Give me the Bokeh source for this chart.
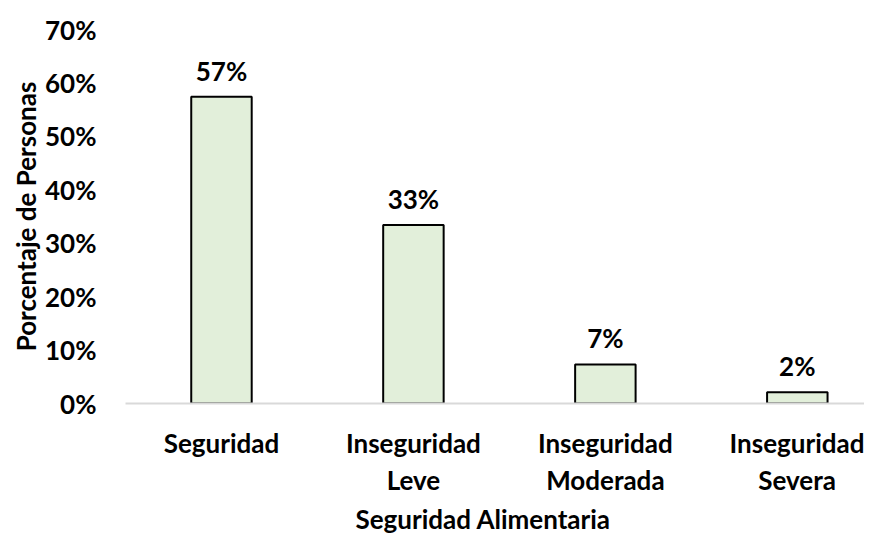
from bokeh.plotting import figure
from bokeh.models import Range1d, FixedTicker, PrintfTickFormatter, ColumnDataSource, Title
from bokeh.core.properties import value
from bokeh.embed import file_html
from bokeh.resources import INLINE

categories = ["Seguridad", "Inseguridad\nLeve", "Inseguridad\nModerada", "Inseguridad\nSevera"]
percentages = [57.4, 33.4, 7.3, 2.1]
y_ticks = [0, 10, 20, 30, 40, 50, 60, 70]
x_title = "Seguridad Alimentaria"
y_title = "Porcentaje de Personas"

FONT = "Lato"
FS = "26px"

xs = list(range(len(categories)))
labels = [f"{round(v)}%" for v in percentages]
src = ColumnDataSource(dict(x=xs, top=percentages, label=labels))

p = figure(width=864, height=536, output_backend="svg", toolbar_location=None,
           x_range=Range1d(-0.5, 3.35), y_range=Range1d(0, 70),
           min_border_left=125, min_border_right=0, min_border_top=29, min_border_bottom=132)
p.outline_line_color = None
p.xgrid.visible = False
p.ygrid.visible = False

p.vbar(x="x", top="top", width=0.315, bottom=0, source=src,
       fill_color="#e2efda", line_color="black", line_width=2)

p.text(x="x", y="top", text="label", source=src, text_align="center",
       text_baseline="middle", y_offset=-26,
       text_font=value(FONT), text_font_style="bold", text_font_size=FS, text_color="black")

# x axis
p.xaxis.ticker = FixedTicker(ticks=xs)
p.xaxis.major_label_overrides = {i: c for i, c in zip(xs, categories)}
p.xaxis.axis_line_color = "#d9d9d9"
p.xaxis.axis_line_width = 2
p.xaxis.major_tick_line_color = None
p.xaxis.minor_tick_line_color = None
p.xaxis.major_label_standoff = 17
p.xaxis.major_label_text_font = FONT
p.xaxis.major_label_text_font_style = "bold"
p.xaxis.major_label_text_font_size = FS
p.xaxis.major_label_text_color = "black"
p.xaxis.major_label_text_line_height = 1.16

# y axis
p.yaxis.ticker = FixedTicker(ticks=y_ticks)
p.yaxis.formatter = PrintfTickFormatter(format="%d%%")
p.yaxis.axis_line_color = None
p.yaxis.major_tick_line_color = None
p.yaxis.minor_tick_line_color = None
p.yaxis.major_label_standoff = 23
p.yaxis.major_label_text_font = FONT
p.yaxis.major_label_text_font_style = "bold"
p.yaxis.major_label_text_font_size = FS
p.yaxis.major_label_text_color = "black"
p.yaxis.axis_label = y_title
p.yaxis.axis_label_standoff = 0
p.yaxis.axis_label_text_font = FONT
p.yaxis.axis_label_text_font_style = "bold"
p.yaxis.axis_label_text_font_size = FS
p.yaxis.axis_label_text_color = "black"

# x axis title, shifted left of the frame centre as in the reference
p.add_layout(Title(text=x_title, align="left", offset=230, standoff=4,
                   text_font=FONT, text_font_style="bold", text_font_size=FS,
                   text_color="black"), "below")

open("out.html", "w").write(file_html(p, INLINE))
